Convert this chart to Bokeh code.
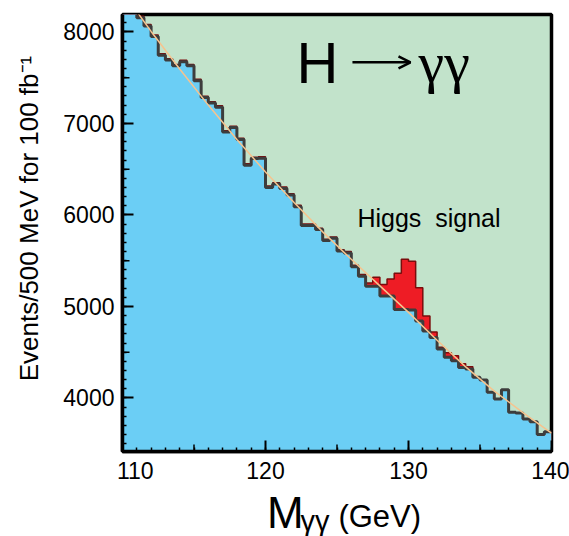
import math
import numpy as np
from bokeh.plotting import figure
from bokeh.layouts import column
from bokeh.models import Range1d, FixedTicker, Label, Arrow, OpenHead
from bokeh.core.properties import value
from bokeh.embed import file_html
from bokeh.resources import INLINE

# ---------------- data ----------------
bin_start = 110.0
bin_width = 0.5
background = [8260, 8210, 8155, 8065, 7950, 7745, 7692, 7630, 7674, 7630,
              7467, 7282, 7223, 7177, 6905, 6955, 6823, 6543, 6616, 6620,
              6300, 6337, 6290, 6217, 6090, 5885, 5885, 5840, 5720, 5745,
              5605, 5585, 5435, 5329, 5222, 5220, 5115, 5115, 4967, 4967,
              4960, 4840, 4731, 4660, 4535, 4445, 4406, 4334, 4316, 4225,
              4195, 4062, 3989, 4090, 3844, 3835, 3771, 3740, 3600, 3630]
signal = [15, 15, 15, 15, 15, 15, 15, 15, 15, 15,
          15, 15, 15, 15, 15, 15, 15, 15, 15, 15,
          15, 15, 15, 15, 15, 15, 15, 15, 15, 15,
          15, 15, 15, 20, 35, 100, 125, 185, 395, 550,
          535, 365, 165, 60, 20, 50, 55, 40, 25, 0,
          0, 0, 0, 0, 0, 0, 0, 0, 0, 0]
fit_mass = [110, 112, 114, 116, 118, 120, 122, 124, 126, 128, 130, 132, 134, 136, 138, 140]
fit_events = [8440, 8005, 7595, 7200, 6825, 6470, 6135, 5815, 5515, 5225, 4935, 4630, 4340, 4075, 3840, 3615]
x_ticks = [110, 120, 130, 140]
x_tick_labels = {110: "\u00a0\u00a0\u00a0\u00a0110", 120: "120", 130: "130", 140: "140"}
x_minor = list(range(110, 141))
x_medium = [115, 125, 135]
y_ticks = [4000, 5000, 6000, 7000, 8000]
y_minor = list(range(3500, 8200, 100))
y_medium = [4500, 5500, 6500, 7500]

# ---------------- derived step outlines ----------------
edges = bin_start + bin_width * np.arange(len(background) + 1)
bkg = np.array(background, dtype=float)
tot = bkg + np.array(signal, dtype=float)
step_x = list(np.repeat(edges, 2)[1:-1])
bkg_y = list(np.repeat(bkg, 2))
tot_y = list(np.repeat(tot, 2))
floor = 3000.0

X0, X1 = 110, 140
Y0, Y1 = 3415, 8190

p = figure(width=569, height=486, x_range=Range1d(X0, X1), y_range=Range1d(Y0, Y1),
           output_backend="svg", toolbar_location=None,
           min_border_left=122, min_border_right=18, min_border_top=14, min_border_bottom=33,
           background_fill_color="#c2e3cb", border_fill_color="white")
p.grid.visible = False
p.outline_line_color = "black"
p.outline_line_width = 3.5

# total (signal + background) filled red
p.patch([edges[0]] + step_x + [edges[-1]], [floor] + tot_y + [floor],
        fill_color="#ee1c25", line_color=None)
p.line(step_x, tot_y, line_color="#7a0c0c", line_width=1.5)
# background filled blue
p.patch([edges[0]] + step_x + [edges[-1]], [floor] + bkg_y + [floor],
        fill_color="#6bcef5", line_color=None)
p.line(step_x, bkg_y, line_color="#3d3d3d", line_width=3)
# fit curve
p.line(fit_mass, fit_events, line_color="#f6c38e", line_width=1.5)

# medium ticks
p.ray(x=X0, y=y_medium, length=7, length_units="screen", angle=0,
      line_color="black", line_width=1.5)
p.ray(x=x_medium, y=Y0, length=7, length_units="screen", angle=math.pi / 2,
      line_color="black", line_width=1.5)

for ax in (p.xaxis[0], p.yaxis[0]):
    ax.axis_line_width = 3.5
    ax.axis_line_color = "black"
    ax.major_tick_in = 11
    ax.major_tick_out = 0
    ax.minor_tick_in = 4
    ax.minor_tick_out = 0
    ax.major_tick_line_width = 2
    ax.minor_tick_line_width = 1.5
    ax.major_label_text_font = "Liberation Sans"
    ax.major_label_text_font_size = "23px"
    ax.major_label_text_color = "black"
p.xaxis.major_label_standoff = 6
p.yaxis.major_label_standoff = 8
p.xaxis.ticker = FixedTicker(ticks=x_ticks, minor_ticks=x_minor)
p.xaxis.major_label_overrides = x_tick_labels
p.yaxis.ticker = FixedTicker(ticks=y_ticks, minor_ticks=y_minor)

p.yaxis.axis_label = "\u00a0" * 4 + "Events/500 MeV for 100 fb\u207b\u00b9"
p.yaxis.axis_label_text_font = "Liberation Sans"
p.yaxis.axis_label_text_font_size = "26px"
p.yaxis.axis_label_text_font_style = "normal"
p.yaxis.axis_label_text_color = "black"
p.yaxis.axis_label_standoff = 16

# title  H -> gamma gamma
p.add_layout(Label(x=122.17, y=7668, text="H", text_font="Liberation Sans",
                   text_font_size="58px", text_baseline="alphabetic", text_color="black"))
p.add_layout(Arrow(x_start=126.08, y_start=7668, x_end=130.14, y_end=7668,
                   line_color="black", line_width=2.5,
                   end=OpenHead(size=12, line_width=2.5, line_color="black")))
p.add_layout(Label(x=130.7, y=7668, text="\u03b3\u03b3", text_font="Liberation Serif",
                   text_font_size="58px", text_baseline="alphabetic", text_color="black"))

p.add_layout(Label(x=126.43, y=5971, text="Higgs\u00a0\u00a0signal", text_font="Liberation Sans",
                   text_font_size="25px", text_baseline="alphabetic", text_color="black"))

# x-axis title strip (same horizontal frame as the chart); page rows 486..536
strip = figure(width=569, height=50, x_range=Range1d(X0, X1), y_range=Range1d(0, 50),
               output_backend="svg", toolbar_location=None,
               min_border_left=122, min_border_right=18, min_border_top=0, min_border_bottom=0,
               x_axis_location=None, y_axis_location=None, outline_line_color=None,
               background_fill_color="white", border_fill_color="white")
strip.grid.visible = False
strip.text(x=[120.10], y=[24.4], text=["M"], text_font=value("Liberation Sans"),
           text_font_size=value("44px"), text_baseline="alphabetic", text_color="black")
strip.text(x=[122.45], y=[15.2], text=["\u03b3\u03b3"], text_font=value("Liberation Sans"),
           text_font_size=value("29px"), text_baseline="alphabetic", text_color="black")
strip.text(x=[125.10], y=[19.9], text=["(GeV)"], text_font=value("Liberation Sans"),
           text_font_size=value("31px"), text_baseline="alphabetic", text_color="black")

layout = column(p, strip, spacing=0)
open("out.html", "w").write(file_html(layout, INLINE))
